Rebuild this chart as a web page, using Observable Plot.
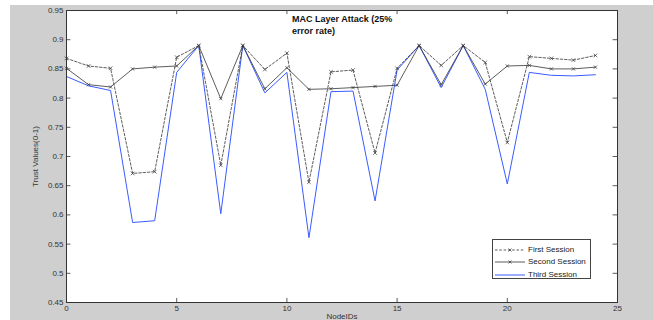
<!DOCTYPE html>
<html>
<head>
<meta charset="utf-8">
<script src="https://cdn.jsdelivr.net/npm/d3@7"></script>
<script src="https://cdn.jsdelivr.net/npm/@observablehq/plot@0.6"></script>
<style>
  body { margin: 0; background: #ffffff; font-family: "Liberation Sans", Arial, sans-serif; }
  #wrap { position: relative; width: 653px; height: 320px; overflow: hidden; }
  #chart { position: absolute; left: 10px; top: 5px; }
  #title { position: absolute; left: 292px; top: 13px; font: bold 9px "Liberation Sans", Arial, sans-serif; line-height: 12px; color: #111; }
  #legend { position: absolute; left: 492px; top: 239px; width: 99px; height: 40px; background: #fff; border: 1px solid #444; box-sizing: border-box; }
  .item { position: absolute; left: 0; height: 12px; font: 8px "Liberation Sans", Arial, sans-serif; color: #222; }
  .item svg { position: absolute; left: 1px; top: 0; }
  .item span { position: absolute; left: 35px; top: 1px; white-space: nowrap; }
</style>
</head>
<body>
<div id="wrap">
  <div id="chart"></div>
  <div id="title">MAC Layer Attack (25%<br>error rate)</div>
  <div id="legend"></div>
</div>
<script>
const nodeIds = d3.range(0, 25);
const firstSession  = [0.868,0.855,0.851,0.671,0.674,0.870,0.890,0.685,0.890,0.849,0.877,0.656,0.845,0.848,0.706,0.851,0.890,0.856,0.890,0.861,0.724,0.871,0.868,0.865,0.873];
const secondSession = [0.851,0.823,0.819,0.850,0.853,0.855,0.890,0.799,0.890,0.816,0.852,0.815,0.816,0.818,0.820,0.822,0.890,0.823,0.890,0.824,0.855,0.856,0.850,0.850,0.853];
const thirdSession  = [0.837,0.821,0.813,0.587,0.590,0.844,0.890,0.602,0.890,0.809,0.844,0.561,0.811,0.812,0.624,0.848,0.890,0.818,0.890,0.815,0.653,0.844,0.839,0.838,0.840];
const seriesNames = ["First Session", "Second Session", "Third Session"];
const xTicks = [0, 5, 10, 15, 20, 25];
const yTicks = [0.45, 0.5, 0.55, 0.6, 0.65, 0.7, 0.75, 0.8, 0.85, 0.9, 0.95];

const toRows = (vals) => vals.map((v, i) => ({x: nodeIds[i], y: v}));
const first = toRows(firstSession), second = toRows(secondSession), third = toRows(thirdSession);

const blue = "#3a5cff", dark = "#333333";
const fmt = d => String(+d.toFixed(2));

const plot = Plot.plot({
  width: 643,
  height: 315,
  marginLeft: 56,
  marginRight: 36,
  marginTop: 5,
  marginBottom: 18,
  style: {background: "#cfcfcf", fontFamily: "Liberation Sans, Arial, sans-serif", fontSize: "8px", color: "#333"},
  x: {domain: [0, 25]},
  y: {domain: [0.45, 0.95]},
  marks: [
    Plot.frame({fill: "white", stroke: "none"}),
    Plot.axisY({ticks: yTicks, tickSize: 0, tickPadding: 3, tickFormat: fmt, label: "Trust Values(0-1)", labelAnchor: "center", labelArrow: "none", labelOffset: 34, fill: "#333"}),
    Plot.axisX({ticks: xTicks, tickSize: 0, tickPadding: 3, tickFormat: d => String(d), label: "NodeIDs", labelAnchor: "center", labelArrow: "none", labelOffset: 16, fill: "#333"}),
    // inward ticks on all four sides
    Plot.ruleY(yTicks, {y: d => d, x1: 0, x2: 0.2, stroke: "#333", strokeWidth: 0.8}),
    Plot.ruleY(yTicks, {y: d => d, x1: 24.8, x2: 25, stroke: "#333", strokeWidth: 0.8}),
    Plot.ruleX(xTicks, {x: d => d, y1: 0.45, y2: 0.457, stroke: "#333", strokeWidth: 0.8}),
    Plot.ruleX(xTicks, {x: d => d, y1: 0.943, y2: 0.95, stroke: "#333", strokeWidth: 0.8}),
    // series
    Plot.line(third, {x: "x", y: "y", stroke: blue, strokeWidth: 1}),
    Plot.line(second, {x: "x", y: "y", stroke: dark, strokeWidth: 0.8}),
    Plot.dot(second, {x: "x", y: "y", symbol: "times", r: 1.6, stroke: dark, strokeWidth: 0.7}),
    Plot.line(first, {x: "x", y: "y", stroke: dark, strokeWidth: 0.8, strokeDasharray: "2.5,1.8"}),
    Plot.dot(first, {x: "x", y: "y", symbol: "times", r: 1.8, stroke: dark, strokeWidth: 0.7}),
    Plot.frame({stroke: "#333", strokeWidth: 1})
  ]
});
document.getElementById("chart").appendChild(plot);

// legend
const legend = document.getElementById("legend");
const styles = [
  {stroke: dark, dash: "2.5,1.8", marker: true},
  {stroke: dark, dash: null, marker: true},
  {stroke: blue, dash: null, marker: false}
];
const tops = [4, 16, 29];
seriesNames.forEach((name, i) => {
  const s = styles[i];
  const div = document.createElement("div");
  div.className = "item";
  div.style.top = tops[i] + "px";
  div.style.width = "97px";
  let svg = `<svg width="32" height="12"><line x1="1" x2="31" y1="6" y2="6" stroke="${s.stroke}" stroke-width="${s.stroke === blue ? 1 : 0.8}" ${s.dash ? `stroke-dasharray="${s.dash}"` : ""}/>`;
  if (s.marker) svg += `<path d="M14.5,4.5L17.5,7.5M17.5,4.5L14.5,7.5" stroke="${s.stroke}" stroke-width="0.7"/>`;
  svg += `</svg>`;
  div.innerHTML = svg + `<span>${name}</span>`;
  legend.appendChild(div);
});
</script>
</body>
</html>
